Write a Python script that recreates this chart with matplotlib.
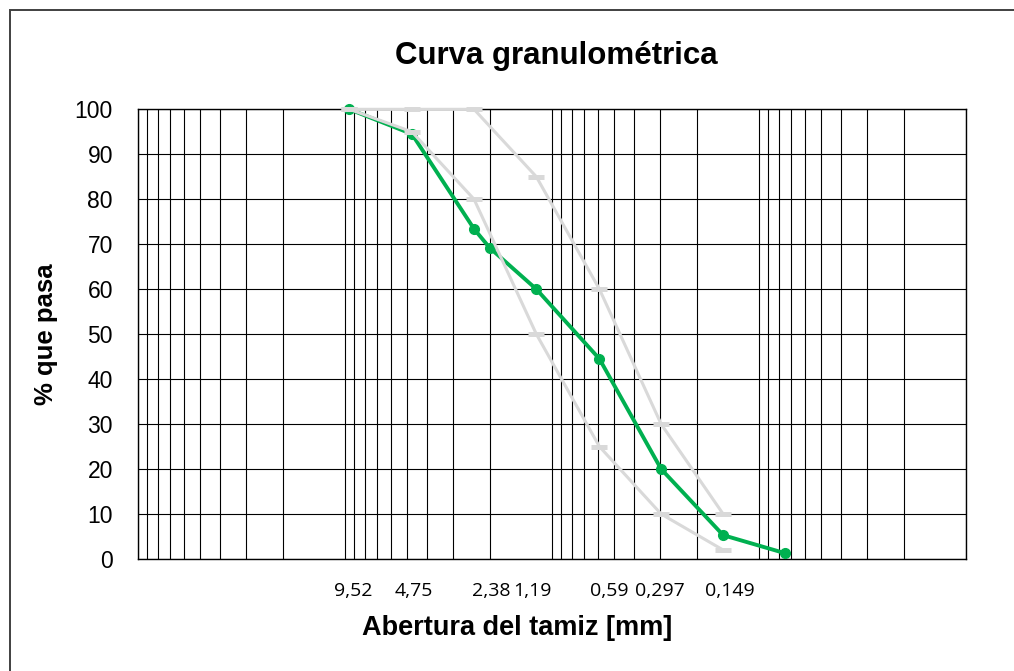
import matplotlib
matplotlib.use("Agg")
import matplotlib.pyplot as plt
from matplotlib.ticker import LogLocator, NullFormatter, NullLocator
from matplotlib.patches import Rectangle

# sample grading (sieve opening in mm, % passing)
sieve_mm = [9.52, 4.75, 2.38, 2.0, 1.19, 0.59, 0.297, 0.149, 0.075]
passing = [100, 94.5, 73.4, 69.2, 60.0, 44.5, 20.0, 5.3, 1.3]

# specification limits
limit_mm = [9.52, 4.75, 2.38, 1.19, 0.59, 0.297, 0.149]
lower_limit = [100, 95, 80, 50, 25, 10, 2]
upper_limit = [100, 100, 100, 85, 60, 30, 10]

tick_mm = [9.52, 4.75, 2.38, 1.19, 0.59, 0.297, 0.149]
tick_labels = ["9,52", "4,75", "2,38", "1,19", "0,59", "0,297", "0,149"]
# label nudges in pixels, as the labels sit in the sheet
label_shift_px = [4, 2, 17, -4, 10, -1, 7]

plt.rcParams['font.family'] = ['Liberation Sans', 'DejaVu Sans']

W, H = 1014, 671
fig = plt.figure(figsize=(W / 100, H / 100), dpi=100)
ax = fig.add_axes([138 / W, (H - 559) / H, (966 - 138) / W, (559 - 109.3) / H])

# outer chart frame (only left and top edges fall inside the image)
fig.patches.append(Rectangle((10 / W, -0.05), 1.1, (H - 10) / H + 0.05,
                             transform=fig.transFigure, fill=False,
                             edgecolor='#404040', linewidth=1.4))

ax.plot(sieve_mm, passing, color='#00B050', linewidth=2.8, marker='o',
        markersize=7, zorder=3, clip_on=False)
ax.plot(limit_mm, lower_limit, color='#D9D9D9', linewidth=2.2, marker='_',
        markersize=11.5, markeredgewidth=3.6, zorder=4, clip_on=False)
ax.plot(limit_mm, upper_limit, color='#D9D9D9', linewidth=2.2, marker='_',
        markersize=11.5, markeredgewidth=3.6, zorder=4, clip_on=False)

ax.set_xscale('log')
ax.set_xlim(100, 0.01)
ax.set_ylim(0, 100)
ax.set_yticks(range(0, 101, 10))

# log grid drawn from minor ticks; sieve labels are placed as text below
ax.xaxis.set_major_locator(NullLocator())
ax.xaxis.set_minor_locator(LogLocator(base=10, subs=range(1, 10), numticks=50))
ax.xaxis.set_minor_formatter(NullFormatter())
ax.grid(True, which='minor', axis='x', color='black', linewidth=0.8)
ax.grid(True, which='major', axis='y', color='black', linewidth=0.8)
ax.set_axisbelow(True)

for x, txt, dx in zip(tick_mm, tick_labels, label_shift_px):
    ax.annotate(txt, xy=(x, 0), xycoords=('data', 'axes fraction'),
                xytext=(dx * 0.72, -32 * 0.72), textcoords='offset points',
                ha='center', va='center', fontsize=14,
                family=['Open Sans', 'DejaVu Sans'])

ax.tick_params(axis='x', which='both', length=0)
ax.tick_params(axis='y', length=0, pad=18, labelsize=16.5)

for s in ax.spines.values():
    s.set_linewidth(1.0)
    s.set_color('black')

fig.text(556 / W, 1 - 56 / H, "Curva granulométrica", fontsize=22.5,
         fontweight='bold', ha='center', va='center')
fig.text(517 / W, 1 - 628 / H, "Abertura del tamiz [mm]", fontsize=19.5,
         fontweight='bold', ha='center', va='center')
ax.set_ylabel("% que pasa", fontsize=18.5, fontweight='bold', labelpad=12)

fig.savefig("out.png", dpi=100)
